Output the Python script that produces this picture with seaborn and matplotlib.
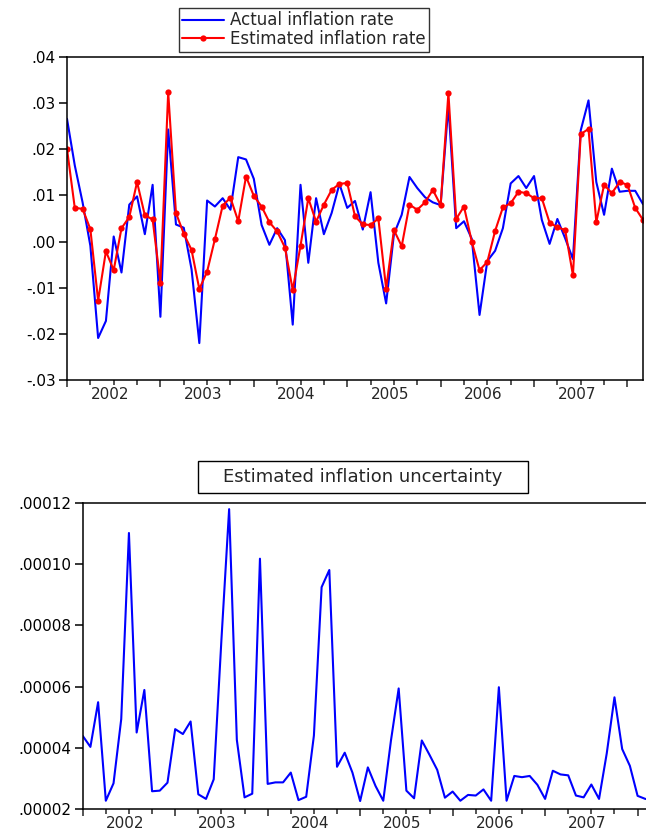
import numpy as np
import pandas as pd
import matplotlib
matplotlib.use("Agg")
import matplotlib.pyplot as plt
import seaborn as sns
from matplotlib.ticker import FuncFormatter, MultipleLocator
from matplotlib.patches import Rectangle

# Datos mensuales 2002M01 - 2008M03
years = ["2002", "2003", "2004", "2005", "2006", "2007"]

actual = [2.66, 1.65, 0.85, -0.09, -2.09, -1.72, 0.11, -0.67, 0.80, 0.98, 0.16, 1.23,
          -1.63, 2.43, 0.37, 0.30, -0.60, -2.20, 0.89, 0.76, 0.94, 0.69, 1.83, 1.78,
          1.36, 0.36, -0.07, 0.29, 0.03, -1.80, 1.23, -0.46, 0.94, 0.16, 0.62, 1.25,
          0.73, 0.88, 0.26, 1.07, -0.46, -1.34, 0.16, 0.58, 1.40, 1.16, 0.96, 0.85,
          0.79, 2.95, 0.29, 0.44, 0.06, -1.59, -0.42, -0.20, 0.29, 1.26, 1.42, 1.16,
          1.42, 0.47, -0.05, 0.49, 0.07, -0.38, 2.41, 3.06, 1.29, 0.58, 1.58, 1.08,
          1.10, 1.10, 0.81]

estimated = [2.01, 0.73, 0.71, 0.27, -1.28, -0.21, -0.62, 0.29, 0.53, 1.29, 0.57, 0.48,
             -0.89, 3.24, 0.62, 0.17, -0.18, -1.03, -0.65, 0.05, 0.78, 0.95, 0.44, 1.41,
             0.99, 0.76, 0.42, 0.22, -0.13, -1.05, -0.09, 0.94, 0.43, 0.80, 1.12, 1.25,
             1.27, 0.55, 0.37, 0.36, 0.50, -1.02, 0.25, -0.10, 0.80, 0.69, 0.85, 1.12,
             0.79, 3.22, 0.49, 0.76, 0.00, -0.62, -0.44, 0.23, 0.74, 0.83, 1.08, 1.05,
             0.94, 0.94, 0.41, 0.31, 0.25, -0.73, 2.33, 2.44, 0.42, 1.23, 1.05, 1.29,
             1.23, 0.73, 0.47]

uncertainty = [4.39, 4.03, 5.49, 2.27, 2.84, 4.94, 11.02, 4.50, 5.89, 2.58, 2.60, 2.86,
               4.61, 4.45, 4.86, 2.48, 2.33, 2.97, 7.53, 11.80, 4.26, 2.38, 2.50, 10.18,
               2.82, 2.87, 2.87, 3.19, 2.29, 2.40, 4.40, 9.25, 9.81, 3.38, 3.84, 3.19,
               2.26, 3.36, 2.75, 2.27, 4.24, 5.94, 2.60, 2.35, 4.24, 3.77, 3.28, 2.37,
               2.57, 2.27, 2.46, 2.44, 2.64, 2.27, 5.98, 2.27, 3.08, 3.04, 3.08, 2.79,
               2.33, 3.25, 3.13, 3.10, 2.44, 2.38, 2.80, 2.33, 3.82, 5.65, 3.96, 3.41,
               2.43, 2.33, 2.30]

df = pd.DataFrame({
    "t": np.arange(len(actual)),
    "actual": np.array(actual) / 100,
    "estimated": np.array(estimated) / 100,
    "uncertainty": np.array(uncertainty) * 1e-5,
})

sns.set_style("ticks")
plt.rcParams["font.family"] = ["DejaVu Sans"]
plt.rcParams["axes.linewidth"] = 1.1

fig = plt.figure(figsize=(6.46, 8.32), dpi=100)
W, H = 646, 832
ax1 = fig.add_axes([67 / W, 1 - 380 / H, 576 / W, 323 / H])
ax2 = fig.add_axes([82.7 / W, 1 - 809 / H, 570.3 / W, 306 / H])

sns.lineplot(data=df, x="t", y="actual", ax=ax1, color="#0000ff", lw=1.5,
             label="Actual inflation rate")
sns.lineplot(data=df, x="t", y="estimated", ax=ax1, color="#ff0000", lw=1.5,
             marker="o", markersize=4.5, markeredgewidth=0,
             label="Estimated inflation rate")
sns.lineplot(data=df, x="t", y="uncertainty", ax=ax2, color="#0000ff", lw=1.5)


def strip_zero(dec):
    def f(v, pos):
        s = f"{v:.{dec}f}"
        return s.replace("0.", ".", 1)
    return FuncFormatter(f)


for ax, lo, hi, step, dec in [(ax1, -0.03, 0.04, 0.01, 2), (ax2, 2e-5, 12e-5, 2e-5, 5)]:
    ax.set_xlim(0, len(actual) - 1)
    ax.set_ylim(lo, hi)
    ax.yaxis.set_major_locator(MultipleLocator(step))
    ax.yaxis.set_major_formatter(strip_zero(dec))
    ax.set_xticks(np.arange(0, len(actual), 12))
    ax.set_xticks(np.arange(0, len(actual), 3), minor=True)
    ax.set_xticklabels([])
    ax.tick_params(axis="x", which="major", length=5, width=1.1, direction="out")
    ax.tick_params(axis="x", which="minor", length=3.5, width=1.1, direction="out")
    ax.tick_params(axis="y", length=6, width=1.1, pad=2, labelsize=11, colors="black")
    ax.set_xlabel("")
    ax.set_ylabel("")
    for sp in ax.spines.values():
        sp.set_visible(True)
        sp.set_color("black")
    # etiquetas de año centradas en cada año
    for k, yr in enumerate(years):
        ax.annotate(yr, xy=(5.5 + 12 * k, 0), xycoords=("data", "axes fraction"),
                    xytext=(0, -13.5), textcoords="offset points",
                    ha="center", va="baseline", fontsize=11)

handles, labels = ax1.get_legend_handles_labels()
ax1.get_legend().remove()
leg = fig.legend(handles, labels, loc="upper center", bbox_to_anchor=(304 / W, 1 - 8 / H),
                 fontsize=12, frameon=True, fancybox=False, edgecolor="black",
                 handlelength=2.5, borderpad=0.2, labelspacing=0.05, handletextpad=0.4,
                 borderaxespad=0)
leg.get_frame().set_linewidth(1.0)

# caja del título del panel inferior
fig.patches.append(Rectangle((198 / W, 1 - 493 / H), 330 / W, 32 / H,
                             transform=fig.transFigure, fc="white", ec="black", lw=1.0))
fig.text(363 / W, 1 - 477 / H, "Estimated inflation uncertainty", ha="center", va="center",
         fontsize=13)

fig.savefig("out.png", dpi=100)
